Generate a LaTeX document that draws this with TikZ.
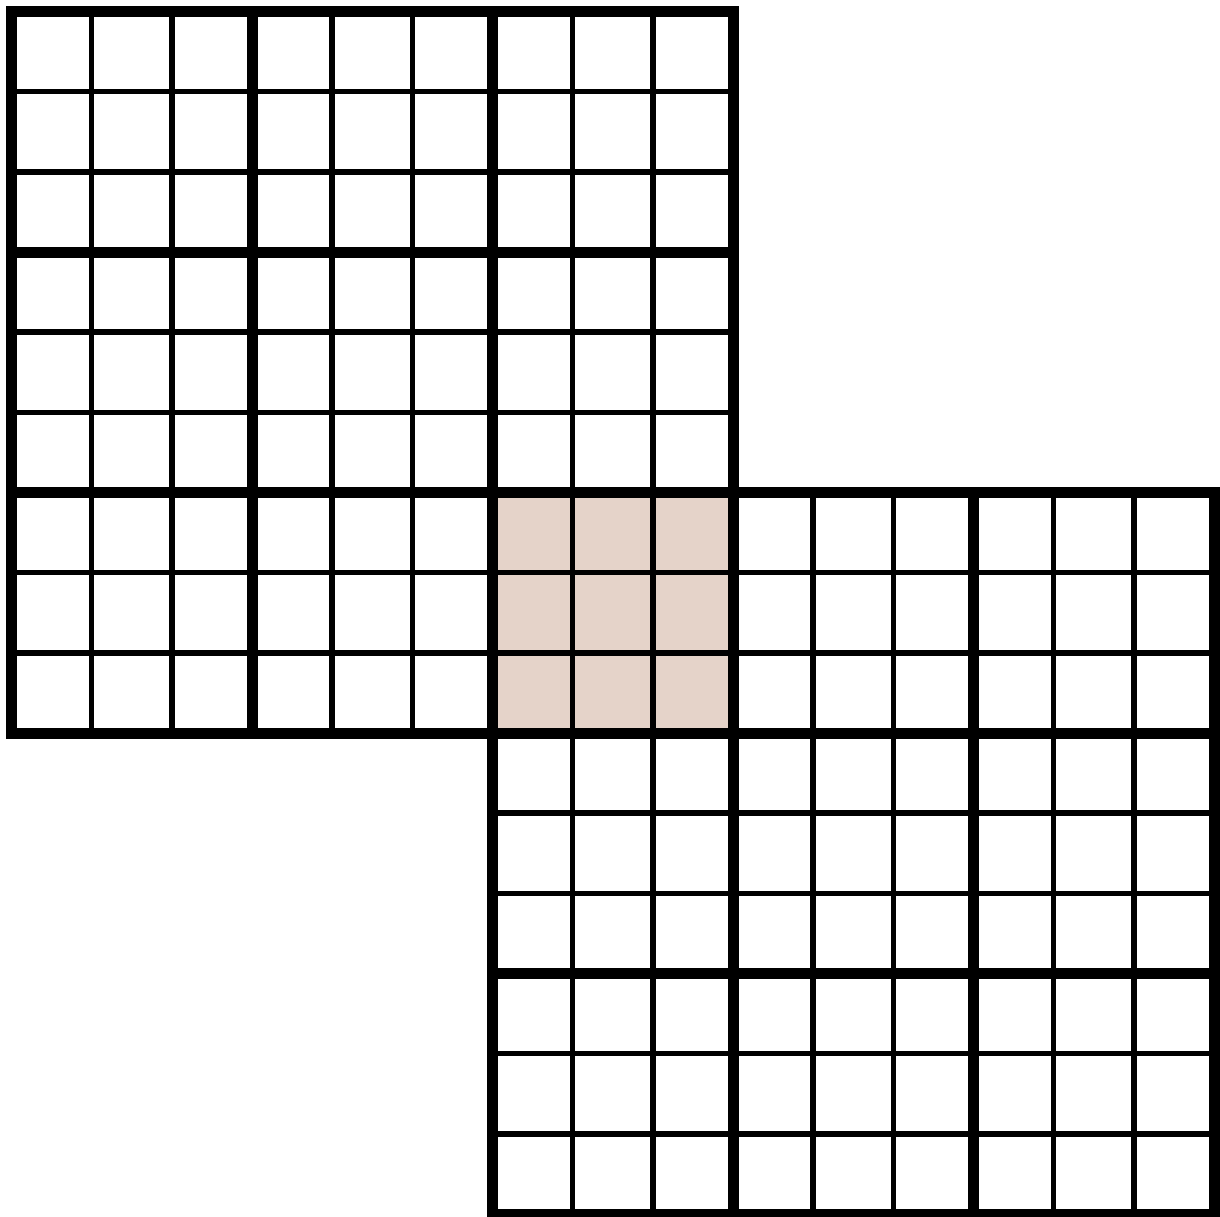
\documentclass[tikz,border=0pt]{standalone}
\definecolor{boxfill}{RGB}{229,211,201}
\begin{document}
\begin{tikzpicture}[x=1pt,y=-1pt,
  thinline/.style={line width=5.5pt, black},
  thickline/.style={line width=11pt, black}]
\useasboundingbox (0,0) rectangle (1220,1216);
\def\cs{80.17}
\fill[boxfill] (492.5,492.5) rectangle ++(3*\cs,3*\cs);
\foreach \ox in {11.5, 492.5} {
  \foreach \k in {1,2,4,5,7,8} {
    \draw[thinline] (\ox+\k*\cs, \ox) -- (\ox+\k*\cs, \ox+9*\cs);
    \draw[thinline] (\ox, \ox+\k*\cs) -- (\ox+9*\cs, \ox+\k*\cs);
  }
}
\foreach \ox in {11.5, 492.5} {
  \foreach \k in {3,6} {
    \draw[thickline] (\ox+\k*\cs, \ox) -- (\ox+\k*\cs, \ox+9*\cs);
    \draw[thickline] (\ox, \ox+\k*\cs) -- (\ox+9*\cs, \ox+\k*\cs);
  }
  \draw[thickline] (\ox,\ox) rectangle (\ox+9*\cs, \ox+9*\cs);
}
\end{tikzpicture}
\end{document}
